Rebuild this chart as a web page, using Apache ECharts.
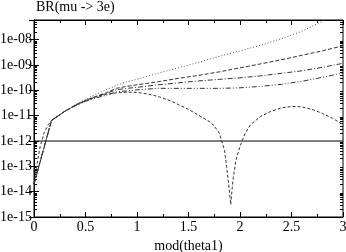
<!DOCTYPE html>
<html><head><meta charset="utf-8">
<script src="https://cdn.jsdelivr.net/npm/echarts@6/dist/echarts.min.js"></script>
<style>html,body{margin:0;padding:0;background:#fff}#c{width:346px;height:252px}</style>
</head><body><div id="c"></div>
<script>
const titleText = 'BR(mu -> 3e)';
const xName = 'mod(theta1)';
const xTickLabels = ['0','0.5','1','1.5','2','2.5','3'];
const yTickLabels = ['1e-15','1e-14','1e-13','1e-12','1e-11','1e-10','1e-09','1e-08'];

const xUpper = [0, 0.17, 0.3, 0.4, 0.5, 0.6, 0.7, 0.8, 0.9, 1.0, 1.2, 1.4, 1.6, 1.8, 2.0, 2.2, 2.4, 2.6, 2.8, 3.0];
const dotted = [2e-14, 6.5e-12, 1.5e-11, 2.7e-11, 4.4e-11, 7.0e-11, 1.05e-10, 1.58e-10, 2.17e-10, 2.72e-10, 4.70e-10, 7.75e-10, 1.28e-9, 2.21e-9, 3.64e-9, 6.01e-9, 1.09e-8, 2.15e-8, 5.33e-8, 1.59e-7];
const dashed = [2e-14, 6.5e-12, 1.5e-11, 2.55e-11, 4.0e-11, 5.79e-11, 7.96e-11, 1.20e-10, 1.44e-10, 1.65e-10, 2.17e-10, 2.98e-10, 3.92e-10, 5.38e-10, 7.75e-10, 1.11e-9, 1.61e-9, 2.42e-9, 3.64e-9, 5.74e-9];
const dashDot = [2e-14, 6.5e-12, 1.5e-11, 2.55e-11, 3.85e-11, 5.53e-11, 7.60e-11, 1.05e-10, 1.20e-10, 1.31e-10, 1.65e-10, 1.98e-10, 2.37e-10, 2.72e-10, 3.12e-10, 3.74e-10, 4.70e-10, 5.90e-10, 8.11e-10, 1.17e-9];
const dashDotDot = [2e-14, 6.5e-12, 1.5e-11, 2.44e-11, 3.67e-11, 5.06e-11, 6.34e-11, 8.73e-11, 9.55e-11, 1.05e-10, 1.20e-10, 1.20e-10, 1.20e-10, 1.20e-10, 1.26e-10, 1.44e-10, 1.73e-10, 2.27e-10, 3.26e-10, 4.83e-10];

const xDip = [0, 0.03, 0.06, 0.1, 0.14, 0.17, 0.3, 0.4, 0.5, 0.6, 0.7, 0.8, 0.9, 1.0, 1.1, 1.2, 1.3, 1.4, 1.5, 1.6, 1.7, 1.75, 1.8, 1.85, 1.87, 1.89, 1.91, 1.93, 1.96, 2.0, 2.05, 2.1, 2.2, 2.3, 2.4, 2.5, 2.6, 2.7, 2.8, 2.9, 3.0];
const dip = [2.1e-14, 1.3e-13, 6.1e-13, 2.2e-12, 4.5e-12, 6.5e-12, 1.5e-11, 2.55e-11, 4.0e-11, 5.53e-11, 7.0e-11, 7.96e-11, 8.49e-11, 8.34e-11, 7.28e-11, 5.79e-11, 4.21e-11, 2.80e-11, 1.77e-11, 1.03e-11, 5.96e-12, 3.95e-12, 2.0e-12, 4.25e-13, 9.91e-14, 1.93e-14, 3.1e-15, 2.53e-14, 1.71e-13, 6.1e-13, 2.0e-12, 4.33e-12, 9.38e-12, 1.48e-11, 2.03e-11, 2.33e-11, 2.23e-11, 1.77e-11, 1.23e-11, 7.82e-12, 4.5e-12];

const xFlat = [0, 3];
const flat = [1e-12, 1e-12];

const yMin = 1e-15, yMax = 6e-8;
const FONT = 'Liberation Serif';
const FS = 14;

function pairs(xs, ys) { return xs.map((x, i) => [x, ys[i]]); }

// minor tick positions for log axis (2..9 x 10^k)
const minorVals = [];
for (let k = -15; k <= -8; k++) for (let m = 2; m <= 9; m++) { const v = m * Math.pow(10, k); if (v < yMax) minorVals.push(v); }

function yLabel(v) {
  const k = Math.round(Math.log10(v));
  if (Math.abs(v / Math.pow(10, k) - 1) > 1e-6) return '';
  return yTickLabels[k + 15] || '';
}
function xLabel(v) {
  const idx = Math.round(v / 0.5);
  return Math.abs(v - idx * 0.5) < 1e-9 ? (xTickLabels[idx] || '') : '';
}

const baseY = { type: 'log', min: yMin, max: yMax, logBase: 10, splitLine: { show: false } };
const chart = echarts.init(document.getElementById('c'), null, { renderer: 'canvas' });
const lineBase = { type: 'line', showSymbol: false, symbol: 'none', smooth: false, clip: true, xAxisIndex: 0, yAxisIndex: 0, silent: true };
const LC = '#333';
chart.setOption({
  animation: false,
  backgroundColor: '#fff',
  title: { text: titleText, left: 36, top: 0, padding: 0, textStyle: { fontFamily: FONT, fontSize: FS, fontWeight: 'normal', color: '#000' } },
  grid: { left: 34, right: 3, top: 20, bottom: 35, show: true, borderColor: '#000', borderWidth: 1, containLabel: false, outerBoundsMode: 'none' },
  xAxis: [
    { type: 'value', min: 0, max: 3, interval: 0.5, position: 'bottom',
      name: xName, nameLocation: 'middle', nameGap: 22, nameTextStyle: { fontFamily: FONT, fontSize: FS, color: '#000' },
      axisLine: { show: true, lineStyle: { color: '#000', width: 1 } },
      axisTick: { show: true, inside: true, length: 5, lineStyle: { color: '#000' } },
      minorTick: { show: true, splitNumber: 2, length: 3, lineStyle: { color: '#000' } },
      axisLabel: { margin: 3, fontFamily: FONT, fontSize: FS, color: '#000', formatter: xLabel, showMinLabel: true, showMaxLabel: true },
      splitLine: { show: false } },
    { type: 'value', min: 0, max: 3, interval: 0.5, position: 'top',
      axisLine: { show: true, lineStyle: { color: '#000', width: 1 } },
      axisTick: { show: true, inside: true, length: 5, lineStyle: { color: '#000' } },
      minorTick: { show: true, splitNumber: 2, length: 3, lineStyle: { color: '#000' } },
      axisLabel: { show: false }, splitLine: { show: false } }
  ],
  yAxis: [
    Object.assign({}, baseY, { position: 'left',
      axisLine: { show: true, lineStyle: { color: '#000', width: 1 } },
      axisTick: { show: true, inside: true, length: 5, lineStyle: { color: '#000' } },
      axisLabel: { margin: 2, fontFamily: FONT, fontSize: FS, color: '#000', formatter: yLabel, showMaxLabel: false } }),
    Object.assign({}, baseY, { position: 'right',
      axisLine: { show: true, lineStyle: { color: '#000', width: 1 } },
      axisTick: { show: true, inside: true, length: 5, lineStyle: { color: '#000' } },
      axisLabel: { show: false } }),
    Object.assign({}, baseY, { position: 'left',
      axisLine: { show: false },
      axisTick: { show: true, inside: true, length: 3, customValues: minorVals, lineStyle: { color: '#000' } },
      axisLabel: { show: false } }),
    Object.assign({}, baseY, { position: 'right',
      axisLine: { show: false },
      axisTick: { show: true, inside: true, length: 3, customValues: minorVals, lineStyle: { color: '#000' } },
      axisLabel: { show: false } })
  ],
  series: [
    Object.assign({}, lineBase, { name: 'flat', data: pairs(xFlat, flat), lineStyle: { color: '#000', width: 1, type: 'solid' } }),
    Object.assign({}, lineBase, { name: 'dotted', data: pairs(xUpper, dotted), lineStyle: { color: '#555', width: 1, type: [1, 2] } }),
    Object.assign({}, lineBase, { name: 'dashed', data: pairs(xUpper, dashed), lineStyle: { color: LC, width: 1, type: [4, 2] } }),
    Object.assign({}, lineBase, { name: 'dashDot', data: pairs(xUpper, dashDot), lineStyle: { color: LC, width: 1, type: [5, 2, 1, 2] } }),
    Object.assign({}, lineBase, { name: 'dashDotDot', data: pairs(xUpper, dashDotDot), lineStyle: { color: LC, width: 1, type: [5, 2, 1, 2, 1, 2] } }),
    Object.assign({}, lineBase, { name: 'dip', data: pairs(xDip, dip), lineStyle: { color: LC, width: 1, type: [3, 2] } })
  ]
});
</script></body></html>
